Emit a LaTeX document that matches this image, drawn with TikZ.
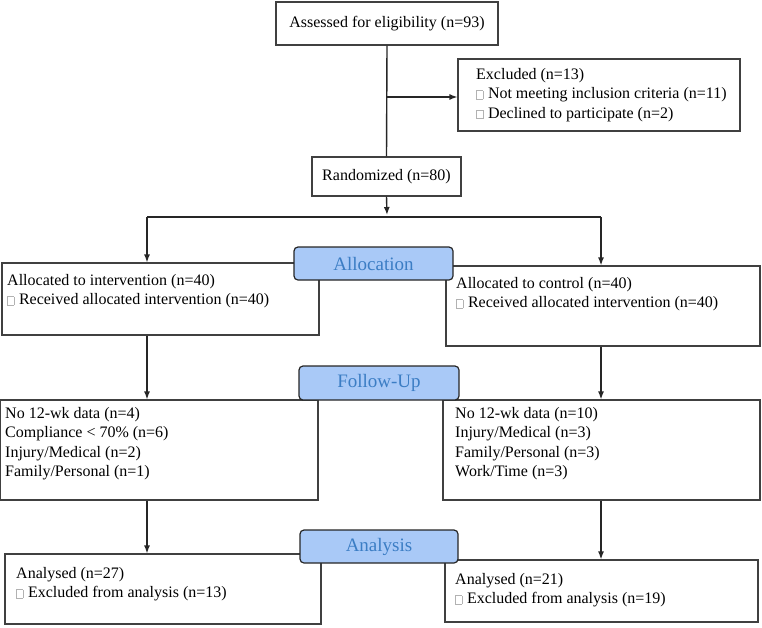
\documentclass[tikz,border=0pt]{standalone}
\usepackage{fontspec}
\setmainfont{Liberation Serif}
\usetikzlibrary{arrows.meta}
\definecolor{stfill}{HTML}{A9C9F7}
\definecolor{sttext}{HTML}{3B7DC4}
\newcommand{\bx}{{\color{gray!60}\fboxsep0pt\fboxrule0.4pt\fbox{\phantom{\rule{6pt}{8pt}}}}\hspace{5pt}}
\begin{document}
\begin{tikzpicture}[x=1pt,y=-1pt,font=\fontsize{16}{19.5}\selectfont,
  box/.style={draw=black!75,line width=1.1pt,inner sep=0pt},
  stage/.style={draw=black!85,line width=1.2pt,rounded corners=4pt,fill=stfill,text=sttext,font=\fontsize{19}{21}\selectfont,inner sep=0pt},
  txt/.style={anchor=north west,align=left,inner sep=0pt},
  ln/.style={line width=1.4pt,black!85},
  arr/.style={ln,-{Latex[length=8pt,width=6pt]}}]
\useasboundingbox (0,0) rectangle (762,627);
% boxes
\node[box,minimum width=222pt,minimum height=43pt] (assess) at (387,23.5) {Assessed for eligibility (n=93)};
\node[box,minimum width=282pt,minimum height=72pt] (excl) at (599,95) {};
\node[txt] (exclx) at (476,68) {Excluded (n=13)\\ \bx Not meeting inclusion criteria (n=11)\\ \bx Declined to participate (n=2)};
\node[box,minimum width=149pt,minimum height=39pt] (rand) at (386.5,176.5) {Randomized (n=80)};
\node[box,minimum width=317pt,minimum height=72pt] (alI) at (160.5,299) {};
\node[txt] at (7,274) {Allocated to intervention (n=40)\\ \bx Received allocated intervention (n=40)};
\node[box,minimum width=314pt,minimum height=80pt] (alC) at (603,306) {};
\node[txt] at (456,277) {Allocated to control (n=40)\\ \bx Received allocated intervention (n=40)};
\node[box,minimum width=318pt,minimum height=100pt] (fuL) at (159,450) {};
\node[txt] at (5,407) {No 12-wk data (n=4)\\ Compliance < 70\% (n=6)\\ Injury/Medical (n=2)\\ Family/Personal (n=1)};
\node[box,minimum width=317pt,minimum height=100pt] (fuR) at (601.5,450) {};
\node[txt] at (455,407) {No 12-wk data (n=10)\\ Injury/Medical (n=3)\\ Family/Personal (n=3)\\ Work/Time (n=3)};
\node[box,minimum width=316pt,minimum height=70pt] (anL) at (163,589) {};
\node[txt] at (16,567) {Analysed (n=27)\\ \bx Excluded from analysis (n=13)};
\node[box,minimum width=313pt,minimum height=62pt] (anR) at (601.5,591) {};
\node[txt] at (455,573) {Analysed (n=21)\\ \bx Excluded from analysis (n=19)};
% connectors
\coordinate (j1) at (387,97);
\draw[ln] (assess.south) -- (rand.north);
\draw[arr] (j1) -- (excl.west |- j1);
\coordinate (sp) at (387,217);
\coordinate (sl) at (147,217);
\coordinate (sr) at (601,217);
\draw[arr] (rand.south) -- ([yshift=2pt]sp);
\draw[ln] (sl) -- (sr);
\draw[arr] (sl) -- (alI.north -| sl);
\draw[arr] (sr) -- (alC.north -| sr);
\draw[arr] (alI.south -| sl) -- (fuL.north -| sl);
\draw[arr] (alC.south -| sr) -- (fuR.north -| sr);
\draw[arr] (fuL.south -| sl) -- (anL.north -| sl);
\draw[arr] (fuR.south -| sr) -- (anR.north -| sr);
% stage labels
\node[stage,minimum width=159pt,minimum height=33pt] (alloc) at (373.5,263.5) {Allocation};
\node[stage,minimum width=160pt,minimum height=34pt] (fu) at (379,383) {Follow-Up};
\node[stage,minimum width=158pt,minimum height=33pt] (ana) at (379,546.5) {Analysis};
\end{tikzpicture}
\end{document}
